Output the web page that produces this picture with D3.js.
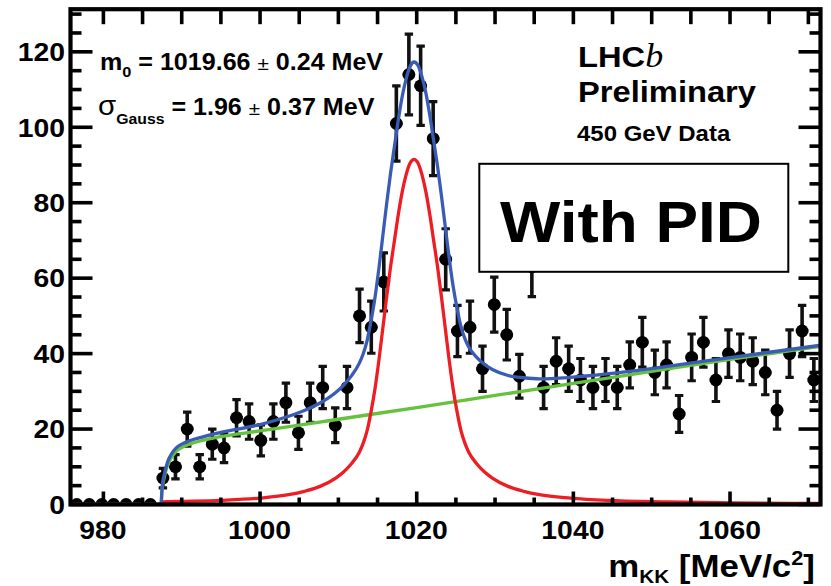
<!DOCTYPE html>
<html>
<head>
<meta charset="utf-8">
<script src="https://cdn.jsdelivr.net/npm/d3@7/dist/d3.min.js"></script>
<style>
  body { margin: 0; background: #fff; }
  svg { display: block; }
  text { font-family: "Liberation Sans", Arial, Helvetica, sans-serif; font-weight: bold; fill: #000; }
</style>
</head>
<body>
<svg id="chart" width="831" height="586"></svg>
<script>
// m(KK) histogram: bin centres [MeV/c^2], counts and their uncertainties
const binCenters = [
  976.6, 978.2, 979.8, 981.3, 982.9, 984.5, 986.0, 987.6, 989.2, 990.7,
  992.3, 993.9, 995.4, 997.0, 998.6, 1000.1, 1001.7, 1003.3, 1004.9, 1006.4,
  1008.0, 1009.6, 1011.1, 1012.7, 1014.2, 1015.8, 1017.4, 1019.0, 1020.5, 1022.1,
  1023.7, 1025.2, 1026.8, 1028.4, 1029.9, 1031.5, 1033.1, 1034.7, 1036.2, 1037.8,
  1039.4, 1040.9, 1042.5, 1044.1, 1045.6, 1047.2, 1048.8, 1050.4, 1051.9, 1053.5,
  1055.1, 1056.6, 1058.2, 1059.8, 1061.3, 1062.9, 1064.5, 1066.0, 1067.6, 1069.2,
  1070.7
];
const binCounts = [
  0, 0, 0, 0, 0, 0, 0, 7, 10, 20,
  10, 16, 15, 23, 22, 17, 22, 27, 19, 27,
  31, 21, 31, 50, 47, 59, 101, 114, 111, 97,
  65, 46, 47, 36, 53, 45, 34, 63, 31, 38,
  36, 33, 31, 33, 31, 37, 43, 35, 37, 24,
  39, 43, 33, 40, 39, 38, 35, 25, 40, 46,
  33
];
const binErrors = [
  0, 0, 0, 0, 0, 0, 0, 2.6, 3.2, 4.5,
  3.2, 4.0, 3.9, 4.8, 4.7, 4.1, 4.7, 5.2, 4.4, 5.2,
  5.6, 4.6, 5.6, 7.1, 6.9, 7.7, 10.0, 10.7, 10.5, 9.8,
  8.1, 6.8, 6.9, 6.0, 7.3, 6.7, 5.8, 7.9, 5.6, 6.2,
  6.0, 5.7, 5.6, 5.7, 5.6, 6.1, 6.6, 5.9, 6.1, 4.9,
  6.2, 6.6, 5.7, 6.3, 6.2, 6.2, 5.9, 5.0, 6.3, 6.8,
  5.7
];
const binHalfWidth = 0.785;

// fit components sampled along m(KK): [mass, events per bin]
const bkgCurve = [
  [975.8, 0], [987.35, 0], [987.5, 4.0], [987.8, 7.5], [988.2, 10.4], [988.7, 12.5],
  [989.3, 14.1], [990.0, 15.1], [991.0, 16.0], [992.5, 16.9], [995.0, 18.0],
  [1000.0, 19.5], [1010.0, 22.6], [1020.0, 25.7], [1030.0, 28.9], [1040.0, 32.1],
  [1050.0, 35.3], [1060.0, 38.5], [1071.55, 41.9]
];
const sigCurve = [
  [975.8, 0], [987.35, 0], [987.45, 0.7], [995.0, 1.1], [1000.0, 1.7], [1003.66, 2.6],
  [1005.66, 3.5], [1007.66, 4.8], [1009.66, 7.0], [1010.66, 8.6], [1011.66, 10.8],
  [1012.66, 13.8], [1013.16, 16.2], [1013.66, 19.5], [1014.16, 24.5], [1014.66, 30.5],
  [1015.16, 38.0], [1015.66, 46.5], [1016.16, 55.0], [1016.66, 63.0], [1017.16, 70.0],
  [1017.66, 77.0], [1018.16, 83.0], [1018.66, 87.5], [1019.16, 90.5], [1019.66, 91.5],
  [1020.16, 90.5], [1020.66, 87.5], [1021.16, 83.0], [1021.66, 77.0], [1022.16, 70.0],
  [1022.66, 63.0], [1023.16, 55.0], [1023.66, 46.5], [1024.16, 38.0], [1024.66, 30.5],
  [1025.16, 24.5], [1025.66, 19.5], [1026.16, 16.2], [1026.66, 13.8], [1027.66, 10.8],
  [1028.66, 8.6], [1029.66, 7.0], [1031.66, 4.8], [1033.66, 3.5], [1035.66, 2.6],
  [1039.66, 1.7], [1044.32, 1.1], [1052.0, 0.7], [1060.0, 0.45], [1071.55, 0.27]
];
const totCurve = [
  [975.8, 0], [987.35, 0], [987.5, 4.7], [987.8, 8.2], [988.2, 11.3], [988.7, 13.4],
  [989.3, 15.0], [990.0, 16.0], [991.0, 16.9], [992.5, 17.8], [995.0, 19.1],
  [1000.0, 21.2], [1003.66, 23.4], [1005.66, 24.9], [1007.66, 26.9], [1009.66, 29.7],
  [1010.66, 31.6], [1011.66, 34.1], [1012.66, 37.4], [1013.16, 39.9], [1013.66, 43.4],
  [1014.16, 48.6], [1014.66, 54.7], [1015.16, 62.4], [1015.66, 71.0], [1016.16, 79.7],
  [1016.66, 87.8], [1017.16, 95.0], [1017.66, 102.1], [1018.16, 108.3], [1018.66, 112.9],
  [1019.16, 116.1], [1019.66, 117.3], [1020.16, 116.4], [1020.66, 113.5], [1021.16, 109.2],
  [1021.66, 103.3], [1022.16, 96.5], [1022.66, 89.6], [1023.16, 81.8], [1023.66, 73.4],
  [1024.16, 65.1], [1024.66, 57.7], [1025.16, 51.9], [1025.66, 47.1], [1026.16, 43.9],
  [1026.66, 41.7], [1027.66, 39.0], [1028.66, 37.1], [1029.66, 35.8], [1031.66, 34.2],
  [1033.66, 33.6], [1035.66, 33.3], [1039.66, 33.7], [1044.32, 34.6], [1052.0, 36.6],
  [1060.0, 38.95], [1071.55, 42.2]
];

// axis ticks
const xMajorTicks = [980, 1000, 1020, 1040, 1060];
const xMinorTicks = [985, 990, 995, 1005, 1010, 1015, 1025, 1030, 1035, 1045, 1050, 1055, 1065, 1070];
const yMajorTicks = [0, 20, 40, 60, 80, 100, 120];
const yMinorTicks = [5, 10, 15, 25, 30, 35, 45, 50, 55, 65, 70, 75, 85, 90, 95, 105, 110, 115, 125, 130];

const plot = { left: 70.5, right: 820.5, top: 9.2, bottom: 504.5 };
const x = d3.scaleLinear().domain([975.8, 1071.55]).range([plot.left, plot.right]);
const y = d3.scaleLinear().domain([0, 131.3]).range([plot.bottom, plot.top]);
const SX = 1.09; // horizontal stretch of the lettering

const svg = d3.select("#chart");

svg.append("defs").append("clipPath").attr("id", "plotArea")
  .append("rect")
  .attr("x", plot.left).attr("y", plot.top)
  .attr("width", plot.right - plot.left).attr("height", plot.bottom - plot.top);

// ---- data points with error bars ----
const pts = svg.append("g").attr("clip-path", "url(#plotArea)");
const bins = binCenters.map((c, i) => ({ c, n: binCounts[i], e: binErrors[i] }));
const errColor = "#111";

pts.selectAll("line.xerr").data(bins).join("line")
  .attr("x1", d => x(d.c - binHalfWidth)).attr("x2", d => x(d.c + binHalfWidth))
  .attr("y1", d => y(d.n)).attr("y2", d => y(d.n))
  .attr("stroke", errColor).attr("stroke-width", 3.4);

const withErr = bins.filter(d => d.e > 0);
pts.selectAll("line.yerr").data(withErr).join("line")
  .attr("x1", d => x(d.c)).attr("x2", d => x(d.c))
  .attr("y1", d => y(d.n - d.e)).attr("y2", d => y(d.n + d.e))
  .attr("stroke", errColor).attr("stroke-width", 3.6);
pts.selectAll("line.capHi").data(withErr).join("line")
  .attr("x1", d => x(d.c) - 4.2).attr("x2", d => x(d.c) + 4.2)
  .attr("y1", d => y(d.n + d.e)).attr("y2", d => y(d.n + d.e))
  .attr("stroke", errColor).attr("stroke-width", 3.2);
pts.selectAll("line.capLo").data(withErr).join("line")
  .attr("x1", d => x(d.c) - 4.2).attr("x2", d => x(d.c) + 4.2)
  .attr("y1", d => y(d.n - d.e)).attr("y2", d => y(d.n - d.e))
  .attr("stroke", errColor).attr("stroke-width", 3.2);

pts.selectAll("circle").data(bins).join("circle")
  .attr("cx", d => x(d.c)).attr("cy", d => y(d.n)).attr("r", 6.4)
  .attr("fill", "#000");

// ---- fit curves ----
const line = d3.line().x(d => x(d[0])).y(d => y(d[1])).curve(d3.curveMonotoneX);
const curves = svg.append("g").attr("clip-path", "url(#plotArea)")
  .attr("fill", "none").attr("stroke-width", 3.3).attr("stroke-linejoin", "round");
curves.append("path").attr("d", line(bkgCurve)).attr("stroke", "#66c23e");
curves.append("path").attr("d", line(sigCurve)).attr("stroke", "#ee1d23");
curves.append("path").attr("d", line(totCurve)).attr("stroke", "#3b5cb5");

// ---- frame and ticks ----
const axes = svg.append("g").attr("stroke", "#000").attr("stroke-width", 3.6);
xMajorTicks.forEach(t => {
  axes.append("line").attr("x1", x(t)).attr("x2", x(t)).attr("y1", plot.bottom).attr("y2", plot.bottom - 13);
  axes.append("line").attr("x1", x(t)).attr("x2", x(t)).attr("y1", plot.top).attr("y2", plot.top + 15);
});
xMinorTicks.forEach(t => {
  axes.append("line").attr("x1", x(t)).attr("x2", x(t)).attr("y1", plot.bottom).attr("y2", plot.bottom - 7);
  axes.append("line").attr("x1", x(t)).attr("x2", x(t)).attr("y1", plot.top).attr("y2", plot.top + 15);
});
yMajorTicks.forEach(t => {
  axes.append("line").attr("x1", plot.left).attr("x2", plot.left + 22).attr("y1", y(t)).attr("y2", y(t));
  axes.append("line").attr("x1", plot.right).attr("x2", plot.right - 22).attr("y1", y(t)).attr("y2", y(t));
});
yMinorTicks.forEach(t => {
  axes.append("line").attr("x1", plot.left).attr("x2", plot.left + 11).attr("y1", y(t)).attr("y2", y(t));
  axes.append("line").attr("x1", plot.right).attr("x2", plot.right - 11).attr("y1", y(t)).attr("y2", y(t));
});
svg.append("rect")
  .attr("x", plot.left).attr("y", plot.top)
  .attr("width", plot.right - plot.left).attr("height", plot.bottom - plot.top)
  .attr("fill", "none").attr("stroke", "#000").attr("stroke-width", 4.2);

// ---- tick labels ----
function stretched(px, py, anchor, size) {
  return svg.append("text")
    .attr("transform", `translate(${px},${py}) scale(${SX},1)`)
    .attr("text-anchor", anchor).attr("font-size", size);
}
yMajorTicks.forEach(t => stretched(65, y(t) + 9.3, "end", 26).text(t));
xMajorTicks.forEach(t => stretched(x(t) - 0.5, 539, "middle", 26).text(t));

// axis title m_KK [MeV/c^2]
const xt = stretched(815, 577, "end", 32);
xt.append("tspan").text("m");
xt.append("tspan").attr("font-size", 19).attr("dy", 6).text("KK");
xt.append("tspan").attr("dy", -6).text(" [MeV/c");
xt.append("tspan").attr("font-size", 20).attr("dy", -12).text("2");
xt.append("tspan").attr("dy", 12).text("]");

// fit results
const t1 = stretched(100, 70, "start", 23);
t1.append("tspan").text("m");
t1.append("tspan").attr("font-size", 15).attr("dy", 6.5).text("0");
t1.append("tspan").attr("dy", -6.5).text(" = 1019.66 ");
t1.append("tspan").attr("font-weight", "normal").attr("font-size", 19).text("±");
t1.append("tspan").text(" 0.24 MeV");

const t2 = stretched(98, 115, "start", 23);
t2.append("tspan").attr("font-weight", "normal").attr("font-size", 27).text("σ");
t2.append("tspan").attr("font-size", 14.5).attr("dy", 9).text("Gauss");
t2.append("tspan").attr("dy", -9).text(" = 1.96 ");
t2.append("tspan").attr("font-weight", "normal").attr("font-size", 19).text("±");
t2.append("tspan").text(" 0.37 MeV");

// experiment label
const lhcb = stretched(578, 66.7, "start", 30);
lhcb.append("tspan").text("LHC");
lhcb.append("tspan").attr("font-family", "'Liberation Serif', 'Times New Roman', serif")
  .attr("font-style", "italic").attr("font-weight", "normal").attr("font-size", 33).text("b");
stretched(578, 102, "start", 30).text("Preliminary");
stretched(577, 141, "start", 22).text("450 GeV Data");

// selection box
svg.append("rect")
  .attr("x", 479.3).attr("y", 163.8).attr("width", 309).attr("height", 108)
  .attr("fill", "#fff").attr("stroke", "#000").attr("stroke-width", 2);
svg.append("text")
  .attr("x", 631).attr("y", 241.7).attr("text-anchor", "middle")
  .attr("font-family", "Lato, 'Open Sans', sans-serif").attr("font-weight", "bold")
  .attr("font-size", 58).attr("textLength", 262).attr("lengthAdjust", "spacingAndGlyphs")
  .text("With PID");
</script>
</body>
</html>
